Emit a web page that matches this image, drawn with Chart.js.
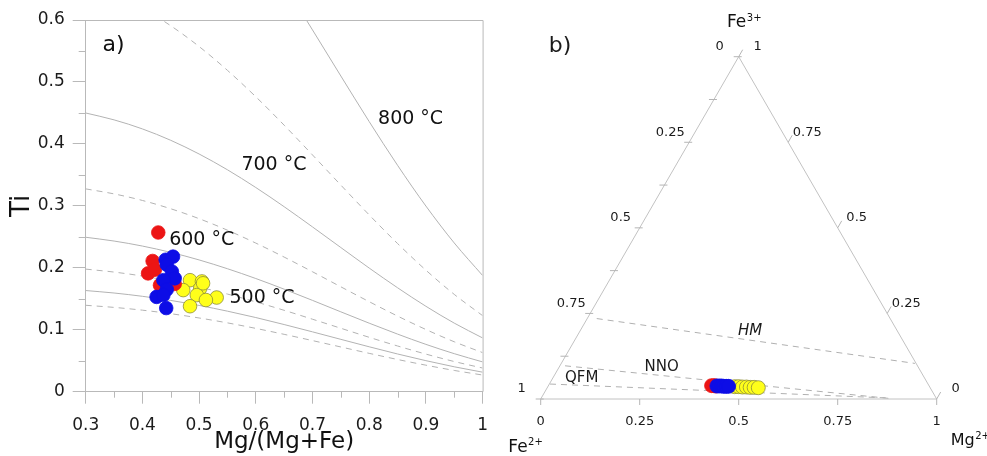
<!DOCTYPE html>
<html>
<head>
<meta charset="utf-8">
<script src="https://cdn.jsdelivr.net/npm/chart.js@4.4.1/dist/chart.umd.min.js"></script>
<style>
  html, body { margin: 0; padding: 0; background: #fff; }
  #wrap { position: relative; width: 987px; height: 456px; }
  #panelA { position: absolute; left: 0; top: 0; }
  #panelB { position: absolute; left: 500px; top: 0; }
</style>
</head>
<body>
<div id="wrap">
  <canvas id="panelA" width="500" height="456"></canvas>
  <canvas id="panelB" width="487" height="456"></canvas>
</div>
<script>
// ---- panel a: Ti vs Mg/(Mg+Fe), isotherms ----
const mgRatio = [0.3, 0.35, 0.4, 0.45, 0.5, 0.55, 0.6, 0.65, 0.7, 0.75, 0.8, 0.85, 0.9, 0.95, 1.0];
const ti450 = [0.1395, 0.1361, 0.1316, 0.1259, 0.1190, 0.1111, 0.1022, 0.0926, 0.0825, 0.0722, 0.0619, 0.0520, 0.0428, 0.0343, 0.0269];
const ti500 = [0.1633, 0.1593, 0.1540, 0.1473, 0.1393, 0.1300, 0.1197, 0.1084, 0.0966, 0.0845, 0.0725, 0.0609, 0.0501, 0.0402, 0.0315];
const ti550 = [0.1979, 0.1931, 0.1867, 0.1786, 0.1689, 0.1576, 0.1450, 0.1314, 0.1170, 0.1024, 0.0878, 0.0738, 0.0607, 0.0487, 0.0382];
const ti600 = [0.2493, 0.2432, 0.2351, 0.2249, 0.2127, 0.1985, 0.1827, 0.1655, 0.1474, 0.1289, 0.1106, 0.0930, 0.0764, 0.0614, 0.0481];
const ti650 = [0.3274, 0.3193, 0.3087, 0.2953, 0.2793, 0.2607, 0.2399, 0.2173, 0.1936, 0.1693, 0.1453, 0.1221, 0.1004, 0.0806, 0.0631];
const ti700 = [0.4499, 0.4388, 0.4242, 0.4058, 0.3837, 0.3582, 0.3296, 0.2986, 0.2660, 0.2327, 0.1996, 0.1678, 0.1379, 0.1107, 0.0868];
const ti750 = [0.6600, 0.6421, 0.6191, 0.5907, 0.5572, 0.5187, 0.4761, 0.4302, 0.3822, 0.3335, 0.2854, 0.2392, 0.1962, 0.1571, 0.1228];
const ti800 = [1.0083, 0.9800, 0.9458, 0.9030, 0.8512, 0.7924, 0.7273, 0.6572, 0.5840, 0.5096, 0.4360, 0.3655, 0.2997, 0.2401, 0.1876];

const redMg = [0.428, 0.418, 0.410, 0.422, 0.431, 0.457];
const redTi = [0.257, 0.211, 0.191, 0.197, 0.172, 0.174];
const blueMg = [0.441, 0.454, 0.443, 0.452, 0.457, 0.437, 0.443, 0.425, 0.437, 0.442];
const blueTi = [0.213, 0.218, 0.205, 0.194, 0.183, 0.180, 0.165, 0.153, 0.156, 0.135];
const yellowMg = [0.484, 0.505, 0.472, 0.502, 0.496, 0.531, 0.512, 0.484, 0.507];
const yellowTi = [0.180, 0.178, 0.164, 0.167, 0.156, 0.152, 0.148, 0.138, 0.175];

const isoLabels = ['800 °C', '700 °C', '600 °C', '500 °C'];
const xTicks = [0.3, 0.4, 0.5, 0.6, 0.7, 0.8, 0.9, 1];
const yTicks = [0, 0.1, 0.2, 0.3, 0.4, 0.5, 0.6];

// ---- panel b: Fe3+ - Fe2+ - Mg ternary ----
const redFe3 = [0.039, 0.039, 0.038];
const redMgT = [0.412, 0.418, 0.423];
const blueFe3 = [0.038, 0.038, 0.038, 0.037, 0.037, 0.037];
const blueMgT = [0.426, 0.432, 0.438, 0.444, 0.450, 0.456];
const yellowFe3 = [0.036, 0.036, 0.035, 0.035, 0.034, 0.034, 0.033];
const yellowMgT = [0.472, 0.482, 0.492, 0.502, 0.512, 0.522, 0.533];
const hmFe3 = [0.235, 0.104], hmMg = [0.024, 0.893];
const nnoFe3 = [0.097, 0.0015], nnoMg = [0.013, 0.881];
const qfmFe3 = [0.0437, 0.003], qfmMg = [0.0016, 0.8755];
const ternTicks = [0, 0.25, 0.5, 0.75, 1];

Chart.defaults.font.family = "'DejaVu Sans', sans-serif";
const axisGray = '#b9b9b9';
const curveGray = '#b3b3b3';
const H = Math.sqrt(3) / 2;

const zip = (xs, ys) => xs.map((v, i) => ({x: v, y: ys[i]}));
const shortNum = v => String(Math.round(v * 100) / 100);

function curve(vals, dashed, order) {
  return {
    type: 'line', data: zip(mgRatio, vals), order: order,
    borderColor: curveGray, borderWidth: 1, borderDash: dashed ? [6, 5] : [],
    pointRadius: 0, cubicInterpolationMode: 'monotone', fill: false
  };
}
function dots(xs, ys, fill, edge, order) {
  return {
    type: 'scatter', data: zip(xs, ys), order: order,
    backgroundColor: fill, borderColor: edge, borderWidth: 0.8,
    pointRadius: 6.8, pointHoverRadius: 6.8
  };
}

const panelAExtras = {
  id: 'panelAExtras',
  afterDraw(chart) {
    const {ctx, chartArea: a, scales: {x, y}} = chart;
    ctx.save();
    ctx.strokeStyle = axisGray;
    ctx.lineWidth = 1;
    ctx.beginPath();
    ctx.moveTo(a.left, a.top + 0.5);
    ctx.lineTo(a.right + 0.5, a.top + 0.5);
    ctx.lineTo(a.right + 0.5, a.bottom);
    for (let v = 0.05; v < 0.6; v += 0.1) {
      const py = Math.round(y.getPixelForValue(v)) + 0.5;
      ctx.moveTo(a.left - 7, py); ctx.lineTo(a.left, py);
    }
    for (let v = 0.35; v < 1; v += 0.1) {
      const px = Math.round(x.getPixelForValue(v)) + 0.5;
      ctx.moveTo(px, a.bottom); ctx.lineTo(px, a.bottom + 6);
    }
    ctx.stroke();

    ctx.fillStyle = '#111';
    ctx.textAlign = 'center';
    ctx.textBaseline = 'middle';
    ctx.font = "22px 'DejaVu Sans'";
    ctx.fillText('a)', x.getPixelForValue(0.349), y.getPixelForValue(0.559));
    ctx.font = "19px 'DejaVu Sans'";
    const spots = [[0.873, 0.4405], [0.632, 0.366], [0.5046, 0.245], [0.611, 0.151]];
    isoLabels.forEach((t, i) => {
      ctx.fillText(t, x.getPixelForValue(spots[i][0]), y.getPixelForValue(spots[i][1]));
    });
    ctx.restore();
  }
};

new Chart(document.getElementById('panelA'), {
  type: 'scatter',
  data: {
    datasets: [
      dots(blueMg, blueTi, '#0d0de6', '#0d0de6', 0),
      dots(redMg, redTi, '#ec1515', '#ec1515', 1),
      dots(yellowMg, yellowTi, '#ffff1a', '#8e8e3a', 2),
      curve(ti450, true, 5), curve(ti500, false, 5), curve(ti550, true, 5),
      curve(ti600, false, 5), curve(ti650, true, 5), curve(ti700, false, 5),
      curve(ti750, true, 5), curve(ti800, false, 5)
    ]
  },
  options: {
    responsive: false,
    animation: false,
    events: [],
    layout: {padding: {left: 0, top: 20, right: 17, bottom: 0}},
    plugins: {legend: {display: false}, tooltip: {enabled: false}},
    scales: {
      x: {
        type: 'linear', min: 0.3, max: 1,
        afterFit: s => { s.height = 64.3; },
        afterBuildTicks: s => { s.ticks = xTicks.map(v => ({value: v})); },
        border: {color: axisGray},
        grid: {drawOnChartArea: false, tickLength: 12, color: axisGray},
        ticks: {padding: 12, color: '#1b1b1b', font: {size: 17}, callback: shortNum},
        title: {display: true, text: 'Mg/(Mg+Fe)', color: '#111', font: {size: 23}, padding: {top: 0, bottom: 0}}
      },
      y: {
        type: 'linear', min: 0, max: 0.6,
        afterFit: s => { s.width = 85.7; },
        afterBuildTicks: s => { s.ticks = yTicks.map(v => ({value: v})); },
        border: {color: axisGray},
        grid: {drawOnChartArea: false, tickLength: 13, color: axisGray},
        ticks: {padding: 8, color: '#1b1b1b', font: {size: 17}, callback: shortNum},
        title: {display: true, text: 'Ti', color: '#111', font: {size: 26}, padding: {top: 7, bottom: 0}}
      }
    }
  },
  plugins: [panelAExtras]
});

// ternary -> cartesian
const toXY = (mg, fe3) => ({x: mg + fe3 / 2, y: fe3 * H});
const tern = (mgs, fe3s) => mgs.map((m, i) => toXY(m, fe3s[i]));

function tline(pts, dashed) {
  return {
    type: 'line', data: pts, order: 5, clip: false,
    borderColor: dashed ? '#b0b0b0' : '#c2c2c2', borderWidth: 1,
    borderDash: dashed ? [6, 5] : [], pointRadius: 0, tension: 0
  };
}
function tdots(mgs, fe3s, fill, edge, order) {
  return {
    type: 'scatter', data: tern(mgs, fe3s), order: order, clip: false,
    backgroundColor: fill, borderColor: edge, borderWidth: 0.8,
    pointRadius: 7, pointHoverRadius: 7
  };
}

function supText(ctx, base, sup, left, baseline, size, supSize) {
  ctx.textAlign = 'left';
  ctx.textBaseline = 'alphabetic';
  ctx.font = size + "px 'DejaVu Sans'";
  ctx.fillText(base, left, baseline);
  const w = ctx.measureText(base).width;
  ctx.font = supSize + "px 'DejaVu Sans'";
  ctx.fillText(sup, left + w + 0.5, baseline - size * 0.38);
}

const ternaryFrame = {
  id: 'ternaryFrame',
  afterDraw(chart) {
    const {ctx, scales: {x, y}} = chart;
    const P = (mg, fe3) => [x.getPixelForValue(mg + fe3 / 2), y.getPixelForValue(fe3 * H)];
    const fmt = v => String(v);
    ctx.save();
    ctx.strokeStyle = '#b5b5b5';
    ctx.lineWidth = 1;
    ctx.beginPath();
    // bottom (Mg)
    ternTicks.forEach(t => { const p = P(t, 0); ctx.moveTo(p[0], p[1]); ctx.lineTo(p[0], p[1] + 6); });
    // left (Fe2+), every 0.125
    for (let f = 0; f <= 1.0001; f += 0.125) {
      const p = P(0, 1 - f); ctx.moveTo(p[0] - 5, p[1]); ctx.lineTo(p[0] + 3, p[1]);
    }
    // right (Fe3+)
    ternTicks.forEach(g => { const p = P(1 - g, g); ctx.moveTo(p[0], p[1]); ctx.lineTo(p[0] + 4, p[1] - 7); });
    ctx.stroke();

    ctx.fillStyle = '#1b1b1b';
    ctx.textAlign = 'center';
    ctx.textBaseline = 'middle';
    ctx.font = "13px 'DejaVu Sans'";
    ternTicks.forEach(t => {
      const b = P(t, 0); ctx.fillText(fmt(t), b[0], b[1] + 22.7);
      const l = P(0, 1 - t); ctx.fillText(fmt(t), l[0] - 19, l[1] - 10);
      const r = P(1 - t, t); ctx.fillText(fmt(t), r[0] + 19, r[1] - 10);
    });

    ctx.font = "italic 15px 'DejaVu Sans'";
    let p = P(0.429, 0.199); ctx.fillText('HM', p[0], p[1]);
    ctx.font = "15px 'DejaVu Sans'";
    p = P(0.2585, 0.0942); ctx.fillText('NNO', p[0], p[1]);
    p = P(0.0733, 0.0604); ctx.fillText('QFM', p[0], p[1]);

    ctx.font = "22px 'DejaVu Sans'";
    const apex = P(0, 1), bl = P(0, 0), br = P(1, 0);
    ctx.fillText('b)', bl[0] + 19.3, apex[1] - 10);

    ctx.fillStyle = '#111';
    supText(ctx, 'Fe', '3+', apex[0] - 11.7, apex[1] - 29.4, 17, 10);
    supText(ctx, 'Fe', '2+', bl[0] - 32.4, bl[1] + 52.7, 17, 10);
    supText(ctx, 'Mg', '2+', br[0] + 14, br[1] + 46, 16, 10);
    ctx.restore();
  }
};

new Chart(document.getElementById('panelB'), {
  type: 'scatter',
  data: {
    datasets: [
      tdots(blueMgT, blueFe3, '#0d0de6', '#0d0de6', 0),
      tdots(redMgT, redFe3, '#ec1515', '#ec1515', 1),
      tdots(yellowMgT, yellowFe3, '#ffff1a', '#8e8e3a', 2),
      tline([toXY(0, 0), toXY(1, 0), toXY(0, 1), toXY(0, 0)], false),
      tline(tern(hmMg, hmFe3), true),
      tline(tern(nnoMg, nnoFe3), true),
      tline(tern(qfmMg, qfmFe3), true)
    ]
  },
  options: {
    responsive: false,
    animation: false,
    events: [],
    layout: {padding: {left: 40.7, right: 50.3, top: 56.7, bottom: 57}},
    plugins: {legend: {display: false}, tooltip: {enabled: false}},
    scales: {
      x: {type: 'linear', min: 0, max: 1, display: false},
      y: {type: 'linear', min: 0, max: H, display: false}
    }
  },
  plugins: [ternaryFrame]
});
</script>
</body>
</html>
